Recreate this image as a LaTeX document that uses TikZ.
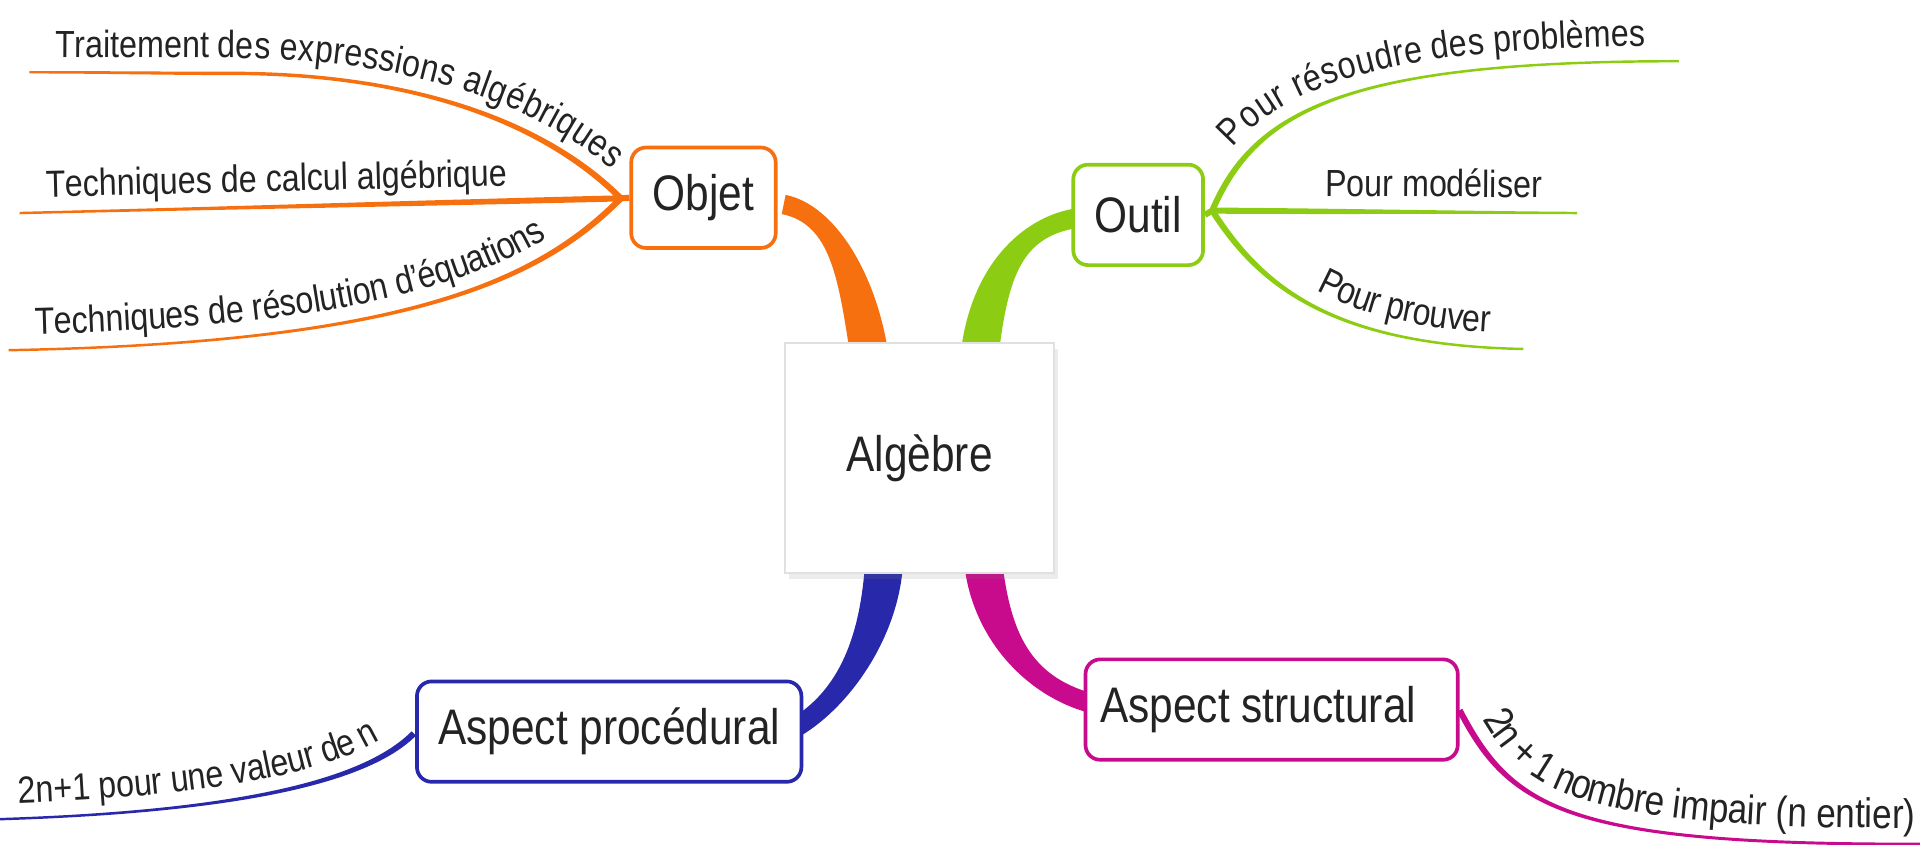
\documentclass[tikz,border=0pt]{standalone}
\usepackage{fontspec}
\setmainfont{Liberation Sans}[FakeStretch=0.85]
\usetikzlibrary{calc,decorations.text,shadows}
\pgfdeclarelayer{bg}
\pgfsetlayers{bg,main}
\definecolor{cOr}{RGB}{247,112,15}
\definecolor{cGr}{RGB}{140,205,20}
\definecolor{cBl}{RGB}{40,40,170}
\definecolor{cMa}{RGB}{200,10,140}
\definecolor{cTx}{RGB}{35,35,35}
\newcommand\nodefont{\fontsize{11.6pt}{13pt}\selectfont}
\newcommand\brlabel{\fontsize{8.8pt}{10pt}\selectfont}
\newcommand\brlabelbig{\fontsize{9.6pt}{11pt}\selectfont}
% tapered cubic: start, ctrl1, ctrl2, end, half width start, half width end, fill options
\newcommand\taper[7]{%
  \path (#1) coordinate (tp0) (#2) coordinate (tp1) (#3) coordinate (tp2) (#4) coordinate (tp3);
  \path ($(tp0)!#5!90:(tp1)$) coordinate (tp0a) ($(tp0)!#5!-90:(tp1)$) coordinate (tp0b)
        ($(tp3)!#6!-90:(tp2)$) coordinate (tp3a) ($(tp3)!#6!90:(tp2)$) coordinate (tp3b);
  \fill[#7] (tp0a) .. controls ($(tp1)+(tp0a)-(tp0)$) and ($(tp2)+(tp3a)-(tp3)$) .. (tp3a)
    -- (tp3b) .. controls ($(tp2)+(tp3b)-(tp3)$) and ($(tp1)+(tp0b)-(tp0)$) .. (tp0b) -- cycle;}
\begin{document}
\begin{tikzpicture}[x=0.1mm,y=-0.1mm,
  topic/.style={draw=#1, line width=0.3mm, rounded corners=1.2mm, fill=white,
    text=cTx, font=\nodefont, inner sep=0pt, minimum height=8.2mm},
  mainbox/.style={draw=black!12, line width=0.4pt, fill=white, text=cTx, font=\nodefont,
    minimum width=22mm, minimum height=18.8mm, inner sep=0pt,
    drop shadow={shadow xshift=0.3mm, shadow yshift=-0.5mm, opacity=0.15}},
  brlab/.style={decorate, decoration={text along path, text={|\brlabel|#1},
    text color=cTx, raise=1.25mm}},
  brlabbig/.style={decorate, decoration={text along path, text={|\brlabelbig|#1},
    text color=cTx, raise=1.3mm}},
  leftal/.style={decoration={text align={left indent=#1}}},
  rightal/.style={decoration={text align={right, right indent=#1}}}
]
\useasboundingbox (0,0) rectangle (1568,690);

% nodes
\node[mainbox] (alg) at (751,374) {Algèbre};
\node[topic=cOr, minimum width=11.8mm] (obj) at (574.5,161.5) {Objet};
\node[topic=cGr, minimum width=10.6mm] (out) at (929.5,175.5) {Outil};
\node[topic=cBl, minimum width=31.4mm] (proc) at (497.5,597.5) {Aspect procédural};
\node[topic=cMa, minimum width=30.4mm] (struc) at (1038.5,579.5) {Aspect structural\kern2.2mm};

% coordinates of branch ends
\coordinate (aO) at (710,290);
\coordinate (aG) at (800,290);
\coordinate (aB) at (722,460);
\coordinate (aM) at (803,460);
\coordinate (eO) at (640,167);
\coordinate (eG) at (880,178);
\coordinate (eB) at (650,594);
\coordinate (eM) at (890,574);

\coordinate (oj) at (507,162);
\coordinate (o1m) at (200,60);
\coordinate (o1e) at (24,59);
\coordinate (o2e) at (16,174);
\coordinate (o3e) at (7,286);
\coordinate (oc) at (990,172);
\coordinate (g1e) at (1371,50);
\coordinate (g2e) at (1288,174);
\coordinate (g3e) at (1244,285);
\coordinate (bc) at (338,599);
\coordinate (b1e) at (0,669);
\coordinate (mc) at (1192,580);
\coordinate (m1e) at (1610,689);

\begin{pgfonlayer}{bg}
  % main branches
  \taper{aO}{700,225}{680,175}{eO}{1.55mm}{0.8mm}{cOr}
  \taper{aG}{808,220}{835,185}{eG}{1.55mm}{0.8mm}{cGr}
  \taper{aB}{718,520}{690,570}{eB}{1.55mm}{0.8mm}{cBl}
  \taper{aM}{810,520}{840,560}{eM}{1.55mm}{0.8mm}{cMa}
  % Objet sub-branches
  \draw[cOr, line width=0.5mm] (obj.west) -- (oj);
  \taper{oj}{445,100}{340,62}{o1m}{0.25mm}{0.14mm}{cOr}
  \taper{o1m}{140,60}{80,59}{o1e}{0.14mm}{0.1mm}{cOr}
  \taper{oj}{343,166}{180,170}{o2e}{0.25mm}{0.1mm}{cOr}
  \taper{oj}{440,230}{330,280}{o3e}{0.25mm}{0.1mm}{cOr}
  % Outil sub-branches
  \draw[cGr, line width=0.5mm] (out.east) -- (oc);
  \taper{oc}{1025,90}{1100,50}{g1e}{0.25mm}{0.1mm}{cGr}
  \taper{oc}{1090,172.7}{1190,173.3}{g2e}{0.25mm}{0.1mm}{cGr}
  \taper{oc}{1030,235}{1090,282}{g3e}{0.25mm}{0.1mm}{cGr}
  % other sub-branches
  \taper{bc}{305,632}{220,662}{b1e}{0.25mm}{0.1mm}{cBl}
  \taper{mc}{1235,662}{1280,693}{m1e}{0.25mm}{0.12mm}{cMa}
\end{pgfonlayer}

% labels along branches
\path[brlab={Traitement des expressions algébriques}, leftal=2.1mm]
  (o1e) -- (o1m) .. controls (340,62) and (445,100) .. (oj);
\path[brlab={Techniques de calcul algébrique}, leftal=2.2mm] (o2e) -- (oj);
\path[brlab={Techniques de résolution d'équations}, leftal=2.2mm]
  (o3e) .. controls (330,280) and (440,230) .. (oj);
\path[brlab={Pour résoudre des problèmes}, rightal=2.7mm]
  (oc) .. controls (1025,90) and (1100,50) .. (g1e);
\path[brlab={Pour modéliser}, rightal=2.9mm] (oc) -- (g2e);
\path[brlab={Pour prouver}, rightal=2.8mm]
  (oc) .. controls (1030,235) and (1090,282) .. (g3e);
\path[brlab={2n+1 pour une valeur de n}, leftal=1.6mm]
  (b1e) .. controls (220,662) and (305,632) .. (bc);
\path[brlabbig={2n + 1 nombre impair (n entier)}, leftal=1.6mm]
  (mc) .. controls (1235,662) and (1280,693) .. (m1e);
\end{tikzpicture}
\end{document}
